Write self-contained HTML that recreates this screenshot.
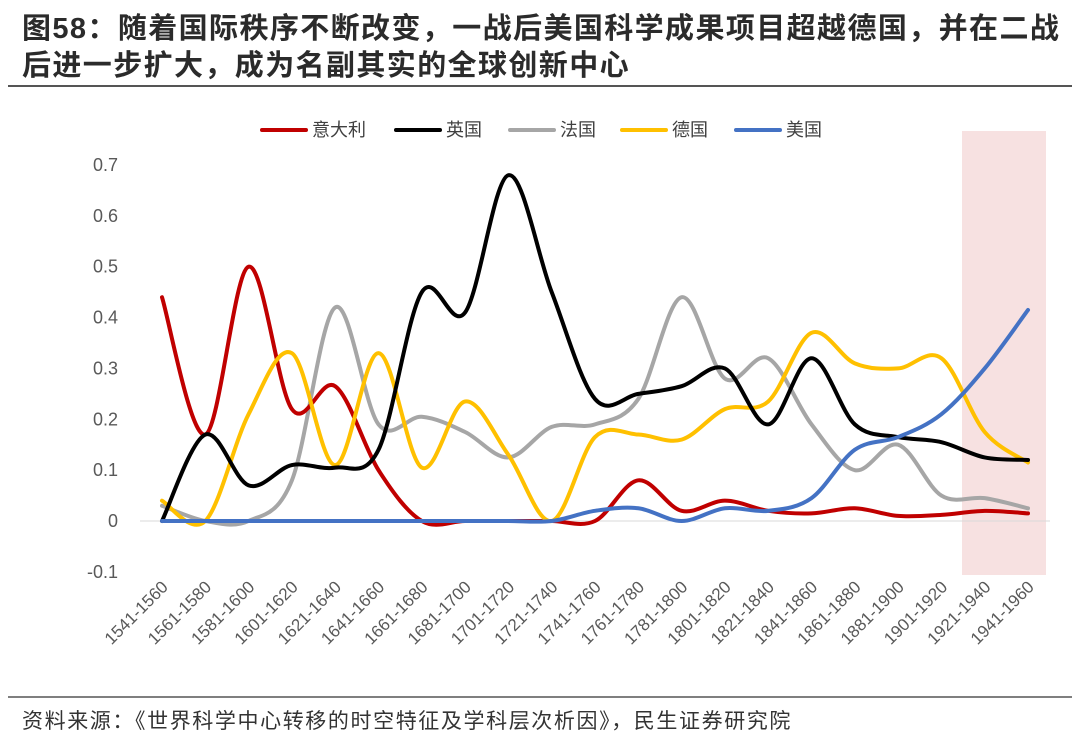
<!DOCTYPE html>
<html><head><meta charset="utf-8">
<style>
body{margin:0;background:#fff;width:1080px;height:744px;overflow:hidden;font-family:"Liberation Sans","Noto Sans CJK SC",sans-serif;}
.title{position:absolute;left:22px;top:11px;font-size:29px;font-weight:bold;color:#2b2b2b;line-height:37px;letter-spacing:1.4px;white-space:nowrap;}
.src{position:absolute;left:22px;top:705px;font-size:21px;color:#333;white-space:nowrap;letter-spacing:1.6px;}
</style></head><body>
<div class="title">图58：随着国际秩序不断改变，一战后美国科学成果项目超越德国，并在二战<br>后进一步扩大，成为名副其实的全球创新中心</div>
<svg width="1080" height="744" style="position:absolute;left:0;top:0" id="chart">
<line x1="8" y1="86" x2="1072" y2="86" stroke="#555" stroke-width="2"/>
<line x1="8" y1="697" x2="1072" y2="697" stroke="#555" stroke-width="1.5"/>
<rect x="962" y="131" width="84" height="444" fill="#f7e1e1"/>
<g id="plot"></g>
</svg>
<div class="src">资料来源：《世界科学中心转移的时空特征及学科层次析因》，民生证券研究院</div>
<script>
const categories=["1541-1560","1561-1580","1581-1600","1601-1620","1621-1640","1641-1660","1661-1680","1681-1700","1701-1720","1721-1740","1741-1760","1761-1780","1781-1800","1801-1820","1821-1840","1841-1860","1861-1880","1881-1900","1901-1920","1921-1940","1941-1960"];
const seriesNames=["意大利","英国","法国","德国","美国"];
const seriesColors=["#c00000","#000000","#a6a6a6","#ffc000","#4472c4"];
const italy=[0.44,0.17,0.50,0.22,0.265,0.10,0,0,0,0,0,0.08,0.02,0.04,0.02,0.015,0.025,0.01,0.012,0.02,0.015];
const uk=[0,0.17,0.07,0.11,0.105,0.14,0.45,0.41,0.68,0.45,0.24,0.25,0.265,0.30,0.19,0.32,0.19,0.165,0.155,0.125,0.12];
const france=[0.03,0,0,0.08,0.42,0.19,0.205,0.175,0.125,0.185,0.19,0.24,0.44,0.28,0.32,0.19,0.10,0.15,0.05,0.045,0.025];
const germany=[0.04,0,0.21,0.33,0.11,0.33,0.105,0.235,0.13,0,0.165,0.17,0.16,0.22,0.235,0.37,0.31,0.30,0.32,0.175,0.115];
const usa=[0,0,0,0,0,0,0,0,0,0,0.02,0.025,0,0.025,0.02,0.045,0.14,0.165,0.21,0.30,0.415];
const yTicks=[-0.1,0,0.1,0.2,0.3,0.4,0.5,0.6,0.7];
const yTickLabels=["-0.1","0","0.1","0.2","0.3","0.4","0.5","0.6","0.7"];
const allSeries=[italy,uk,france,germany,usa];
const NS="http://www.w3.org/2000/svg";
const g=document.getElementById('plot');
const xS=i=>162+i*(1028-162)/(categories.length-1);
const yS=v=>521-v*(521-165)/0.7;
function mk(t,a){const e=document.createElementNS(NS,t);for(const k in a)e.setAttribute(k,a[k]);g.appendChild(e);return e;}
yTicks.forEach((v,i)=>{const t=mk('text',{x:118,y:yS(v)+6,'text-anchor':'end','font-size':18,fill:'#595959'});t.textContent=yTickLabels[i];

});
const ax=mk('line',{x1:140,y1:yS(0),x2:1050,y2:yS(0),stroke:'#d9d9d9','stroke-width':1});


categories.forEach((c,i)=>{const x=xS(i)+7,y=588;const t=mk('text',{x:x,y:y,'text-anchor':'end','font-size':17,fill:'#595959',transform:`rotate(-45 ${x} ${y})`});t.textContent=c;

});
function smooth(d){const p=d.map((v,i)=>[xS(i),yS(v)]);let s=`M${p[0][0]},${p[0][1]}`;
for(let i=0;i<p.length-1;i++){const p0=p[Math.max(i-1,0)],p1=p[i],p2=p[i+1],p3=p[Math.min(i+2,p.length-1)];
const c1=[p1[0]+(p2[0]-p0[0])/6,p1[1]+(p2[1]-p0[1])/6],c2=[p2[0]-(p3[0]-p1[0])/6,p2[1]-(p3[1]-p1[1])/6];
s+=` C${c1[0]},${c1[1]} ${c2[0]},${c2[1]} ${p2[0]},${p2[1]}`;}return s;}
[2,0,3,1,4].forEach(k=>{const l=mk('path',{d:smooth(allSeries[k]),fill:'none',stroke:seriesColors[k],'stroke-width':4,'stroke-linejoin':'round','stroke-linecap':'round'});

});
const lx=[262,396,510,622,736];
seriesNames.forEach((n,i)=>{const l=mk('line',{x1:lx[i],y1:130,x2:lx[i]+44,y2:130,stroke:seriesColors[i],'stroke-width':4,'stroke-linecap':'round'});


const t=mk('text',{x:lx[i]+50,y:136,'font-size':18,fill:'#404040'});t.textContent=n;

});
</script>
</body></html>
